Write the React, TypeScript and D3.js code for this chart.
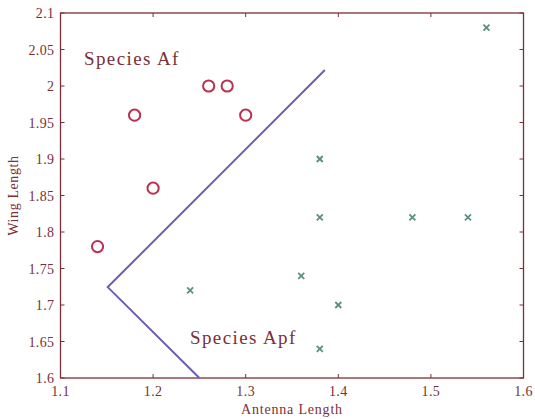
import React from "react";
import * as d3 from "d3";

const afX = [1.14, 1.18, 1.2, 1.26, 1.28, 1.3];
const afY = [1.78, 1.96, 1.86, 2.0, 2.0, 1.96];
const apfX = [1.24, 1.36, 1.38, 1.38, 1.38, 1.4, 1.48, 1.54, 1.56];
const apfY = [1.72, 1.74, 1.64, 1.82, 1.9, 1.7, 1.82, 1.82, 2.08];
const boundaryX = [1.25, 1.151, 1.3855];
const boundaryY = [1.6, 1.7245, 2.022];
const xTicks = [1.1, 1.2, 1.3, 1.4, 1.5, 1.6];
const yTicks = [1.6, 1.65, 1.7, 1.75, 1.8, 1.85, 1.9, 1.95, 2, 2.05, 2.1];

const W = 535, H = 419;
const L = 60.5, R = 523.5, T = 13, B = 378;
const axisColor = "#7b2f36";
const font = "'Liberation Serif', 'Times New Roman', serif";

export default function App() {
  const x = d3.scaleLinear().domain([1.1, 1.6]).range([L, R]);
  const y = d3.scaleLinear().domain([1.6, 2.1]).range([B, T]);
  const line = d3.line<number>().x((_, i) => x(boundaryX[i])).y((_, i) => y(boundaryY[i]));
  const tl = 4;
  return (
    <svg width={W} height={H} style={{ position: "absolute", left: 0, top: 0, background: "#fff" }}>
      <rect x={L} y={T} width={R - L} height={B - T} fill="none" stroke={axisColor} strokeWidth={1.3} />
      {xTicks.map((t) => (
        <g key={"x" + t}>
          <line x1={x(t)} x2={x(t)} y1={B} y2={B - tl} stroke={axisColor} strokeWidth={1} />
          <line x1={x(t)} x2={x(t)} y1={T} y2={T + tl} stroke={axisColor} strokeWidth={1} />
          <text x={x(t)} y={B + 18} textAnchor="middle" fontFamily={font} fontSize={14} letterSpacing={0.4} fill={axisColor}>
            {String(t)}
          </text>
        </g>
      ))}
      {yTicks.map((t) => (
        <g key={"y" + t}>
          <line x1={L} x2={L + tl} y1={y(t)} y2={y(t)} stroke={axisColor} strokeWidth={1} />
          <line x1={R} x2={R - tl} y1={y(t)} y2={y(t)} stroke={axisColor} strokeWidth={1} />
          <text x={L - 6} y={y(t) + 5} textAnchor="end" fontFamily={font} fontSize={14} letterSpacing={0.4} fill={axisColor}>
            {String(t)}
          </text>
        </g>
      ))}
      <path d={line(boundaryX) || ""} fill="none" stroke="#6a5fb3" strokeWidth={2} />
      {afX.map((v, i) => (
        <circle key={"a" + i} cx={x(v)} cy={y(afY[i])} r={5.6} fill="none" stroke="#bb2f50" strokeWidth={2} />
      ))}
      {apfX.map((v, i) => {
        const cx = x(v), cy = y(apfY[i]), s = 3;
        return (
          <g key={"p" + i} stroke="#5d8f80" strokeWidth={1.8}>
            <line x1={cx - s} y1={cy - s} x2={cx + s} y2={cy + s} />
            <line x1={cx - s} y1={cy + s} x2={cx + s} y2={cy - s} />
          </g>
        );
      })}
      <text x={84} y={65} fontFamily={font} fontSize={19} letterSpacing={1.4} fill={axisColor}>Species Af</text>
      <text x={190} y={344} fontFamily={font} fontSize={19} letterSpacing={1.4} fill={axisColor}>Species Apf</text>
      <text x={(L + R) / 2} y={414} textAnchor="middle" fontFamily={font} fontSize={14} letterSpacing={0.8} fill={axisColor}>Antenna Length</text>
      <text transform={`translate(18,${(T + B) / 2}) rotate(-90)`} textAnchor="middle" fontFamily={font} fontSize={14} letterSpacing={0.6} fill={axisColor}>Wing Length</text>
    </svg>
  );
}
